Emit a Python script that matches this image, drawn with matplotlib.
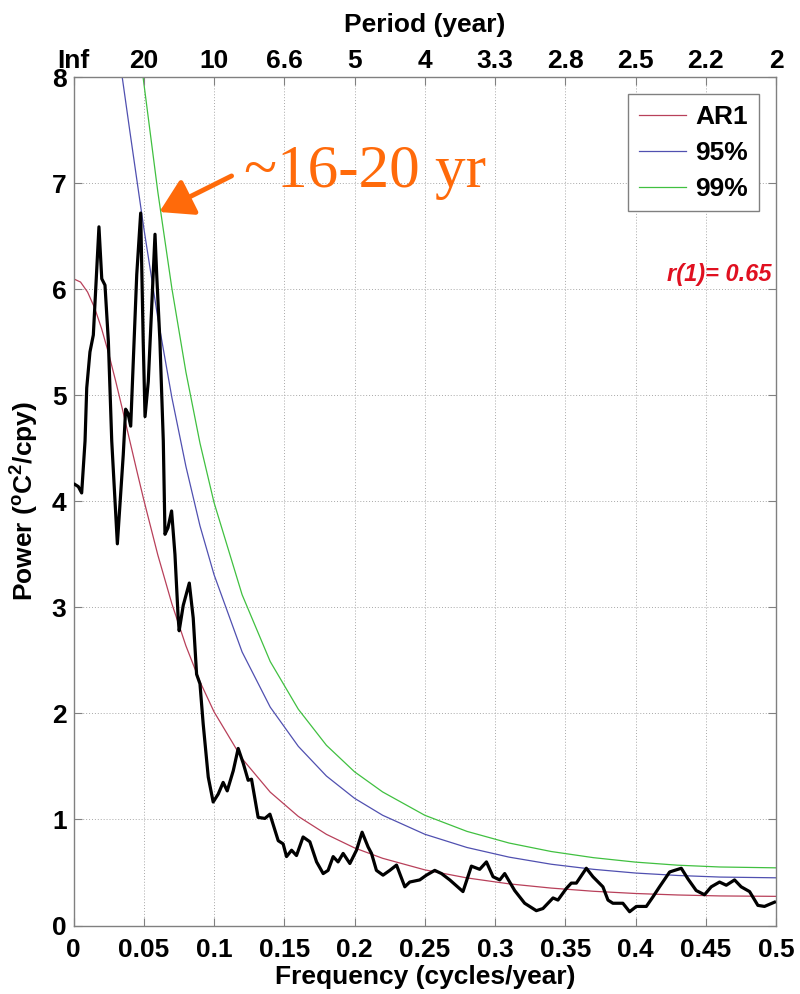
import numpy as np
import matplotlib
matplotlib.use('Agg')
from matplotlib import pyplot as plt

plt.rcParams['font.family'] = ['Liberation Sans', 'DejaVu Sans']
plt.rcParams['font.weight'] = 'bold'
plt.rcParams['mathtext.fontset'] = 'custom'
plt.rcParams['mathtext.rm'] = 'Liberation Sans:bold'
plt.rcParams['mathtext.bf'] = 'Liberation Sans:bold'
plt.rcParams['mathtext.default'] = 'bf'

# Power spectrum (cycles/year, degC^2/cpy)
spec_freq = [0.0010, 0.0034, 0.0058, 0.0082, 0.0094, 0.0117, 0.0141, 0.0181,
             0.0201, 0.0224, 0.0248, 0.0272, 0.0312, 0.0354, 0.0371, 0.0388,
             0.0407, 0.0450, 0.0478, 0.0496, 0.0509, 0.0532, 0.0556, 0.0580,
             0.0592, 0.0615, 0.0639, 0.0651, 0.0672, 0.0698, 0.0722, 0.0745,
             0.0752, 0.0781, 0.0824, 0.0852, 0.0876, 0.0900, 0.0923, 0.0959,
             0.0994, 0.1030, 0.1065, 0.1094, 0.1137, 0.1172, 0.1208, 0.1243,
             0.1267, 0.1314, 0.1362, 0.1398, 0.1457, 0.1492, 0.1516, 0.1552,
             0.1587, 0.1634, 0.1682, 0.1730, 0.1777, 0.1812, 0.1848, 0.1883,
             0.1919, 0.1967, 0.2014, 0.2054, 0.2097, 0.2121, 0.2156, 0.2203,
             0.2251, 0.2299, 0.2322, 0.2358, 0.2393, 0.2464, 0.2512, 0.2571,
             0.2619, 0.2678, 0.2772, 0.2832, 0.2891, 0.2939, 0.2986, 0.3034,
             0.3069, 0.3140, 0.3211, 0.3294, 0.3341, 0.3413, 0.3448, 0.3508,
             0.3543, 0.3579, 0.3650, 0.3697, 0.3768, 0.3804, 0.3839, 0.3910,
             0.3958, 0.4006, 0.4077, 0.4124, 0.4171, 0.4243, 0.4278, 0.4326,
             0.4373, 0.4432, 0.4491, 0.4539, 0.4598, 0.4646, 0.4705, 0.4752,
             0.4812, 0.4871, 0.4918, 0.4989]
spec_power = [4.16, 4.14, 4.08, 4.57, 5.07, 5.41, 5.57, 6.59,
              6.10, 6.04, 5.51, 4.57, 3.60, 4.44, 4.87, 4.83,
              4.71, 6.14, 6.72, 5.51, 4.80, 5.13, 5.82, 6.52,
              6.14, 5.51, 4.57, 3.69, 3.75, 3.91, 3.50, 2.90,
              2.78, 3.02, 3.23, 2.90, 2.37, 2.28, 1.90, 1.40,
              1.165, 1.24, 1.35, 1.27, 1.46, 1.67, 1.53, 1.37,
              1.38, 1.02, 1.01, 1.05, 0.80, 0.77, 0.65, 0.71,
              0.66, 0.835, 0.79, 0.60, 0.49, 0.52, 0.65, 0.60,
              0.68, 0.585, 0.71, 0.88, 0.74, 0.68, 0.52, 0.475,
              0.52, 0.57, 0.49, 0.365, 0.41, 0.43, 0.475, 0.52,
              0.49, 0.43, 0.32, 0.56, 0.53, 0.60, 0.46, 0.43,
              0.49, 0.33, 0.21, 0.14, 0.16, 0.26, 0.24, 0.35,
              0.40, 0.40, 0.54, 0.46, 0.365, 0.24, 0.21, 0.21,
              0.13, 0.18, 0.18, 0.27, 0.365, 0.505, 0.52, 0.54,
              0.44, 0.33, 0.29, 0.365, 0.41, 0.38, 0.43, 0.365,
              0.32, 0.19, 0.18, 0.22]

# Red-noise background and significance levels
ar1_freq = [0.0, 0.005, 0.01, 0.015, 0.02, 0.025, 0.03, 0.035, 0.04, 0.045,
            0.05, 0.06, 0.07, 0.08, 0.09, 0.10, 0.12, 0.14, 0.16, 0.18,
            0.20, 0.22, 0.25, 0.28, 0.31, 0.34, 0.37, 0.40, 0.43, 0.46, 0.50]
ar1_power = [6.100, 6.069, 5.975, 5.826, 5.629, 5.395, 5.135, 4.859, 4.575,
             4.292, 4.015, 3.495, 3.035, 2.638, 2.300, 2.016, 1.574, 1.258,
             1.029, 0.860, 0.732, 0.634, 0.525, 0.449, 0.393, 0.353, 0.323,
             0.302, 0.288, 0.279, 0.275]
sig95_freq = ar1_freq[6:]
sig95_power = [8.42, 7.97, 7.50, 7.04, 6.58, 5.73, 4.98, 4.33, 3.77, 3.31,
               2.58, 2.06, 1.69, 1.41, 1.20, 1.04, 0.861, 0.736, 0.645, 0.578,
               0.530, 0.495, 0.472, 0.457, 0.450]
sig99_freq = ar1_freq[9:]
sig99_power = [8.50, 7.95, 6.92, 6.01, 5.22, 4.55, 3.99, 3.12, 2.49, 2.04,
               1.70, 1.45, 1.26, 1.04, 0.888, 0.778, 0.698, 0.640, 0.598,
               0.569, 0.552, 0.544]

freq_ticks = [0, 0.05, 0.1, 0.15, 0.2, 0.25, 0.3, 0.35, 0.4, 0.45, 0.5]
freq_labels = ['0', '0.05', '0.1', '0.15', '0.2', '0.25', '0.3', '0.35',
               '0.4', '0.45', '0.5']
period_labels = ['Inf', '20', '10', '6.6', '5', '4', '3.3', '2.8', '2.5',
                 '2.2', '2']
lag1 = 0.65

orange = '#ff6a0a'
gray = '#808080'
fs = 19

fig = plt.figure(figsize=(8.0, 9.94), dpi=100)
ax = fig.add_axes([0.0919, 0.0689, 0.8781, 0.8533])

ax.plot(ar1_freq, ar1_power, color='#b8405a', lw=0.9, label='AR1', zorder=2)
ax.plot(sig95_freq, sig95_power, color='#5050b0', lw=0.9, label='95%', zorder=2)
ax.plot(sig99_freq, sig99_power, color='#40c040', lw=0.9, label='99%', zorder=2)
ax.plot(spec_freq, spec_power, color='k', lw=2.3, zorder=3)

ax.set_xlim(0, 0.5)
ax.set_ylim(0, 8)
ax.set_xticks(freq_ticks)
ax.set_xticklabels(freq_labels)
ax.set_yticks(range(9))
ax.grid(True, linestyle=(0, (1, 2)), color='#a8a8a8', lw=0.7)
ax.tick_params(direction='in', length=6, width=0.8, color=gray,
               labelsize=fs, right=True)
ax.tick_params(axis='x', pad=9)
ax.tick_params(axis='y', pad=5)
for sp in ax.spines.values():
    sp.set_color(gray)
    sp.set_linewidth(1.0)

ax.set_xlabel('Frequency (cycles/year)', fontsize=fs, fontweight='bold',
              labelpad=2)
ax.set_ylabel(r'Power ($^{o}$C$^{2}$/cpy)', fontsize=fs, fontweight='bold',
              labelpad=8)

# Period axis on top
ax2 = ax.twiny()
ax2.set_xlim(ax.get_xlim())
ax2.set_xticks(freq_ticks)
ax2.set_xticklabels(period_labels)
ax2.tick_params(direction='in', length=6, width=0.8, color=gray,
                labelsize=fs, pad=3)
ax2.set_xlabel('Period (year)', fontsize=fs, fontweight='bold', labelpad=12)
for sp in ax2.spines.values():
    sp.set_visible(False)

leg = ax.legend(loc='upper right', prop={'weight': 'bold', 'size': 19},
                handlelength=1.8, handletextpad=0.35, labelspacing=0.45,
                borderaxespad=0.65, fancybox=False, framealpha=1,
                edgecolor=gray)
leg.get_frame().set_linewidth(1.0)

ax.text(0.497, 6.08, f'r(1)= {lag1}', color='#e01020', fontsize=17,
        fontweight='bold', style='italic', ha='right', va='baseline')

# Highlight the decadal peaks
ax.annotate('', xy=(0.0611, 6.73), xytext=(0.1125, 7.07),
            arrowprops=dict(arrowstyle='-|>,head_length=1.0,head_width=0.6',
                            color=orange, lw=3.5, mutation_scale=20,
                            shrinkA=0, shrinkB=0), zorder=5)
ax.text(0.121, 6.966, '~16-20 yr', color=orange, fontsize=44,
        family='Liberation Serif', fontweight='normal', va='baseline',
        zorder=5)

plt.savefig('out.png', dpi=100)
